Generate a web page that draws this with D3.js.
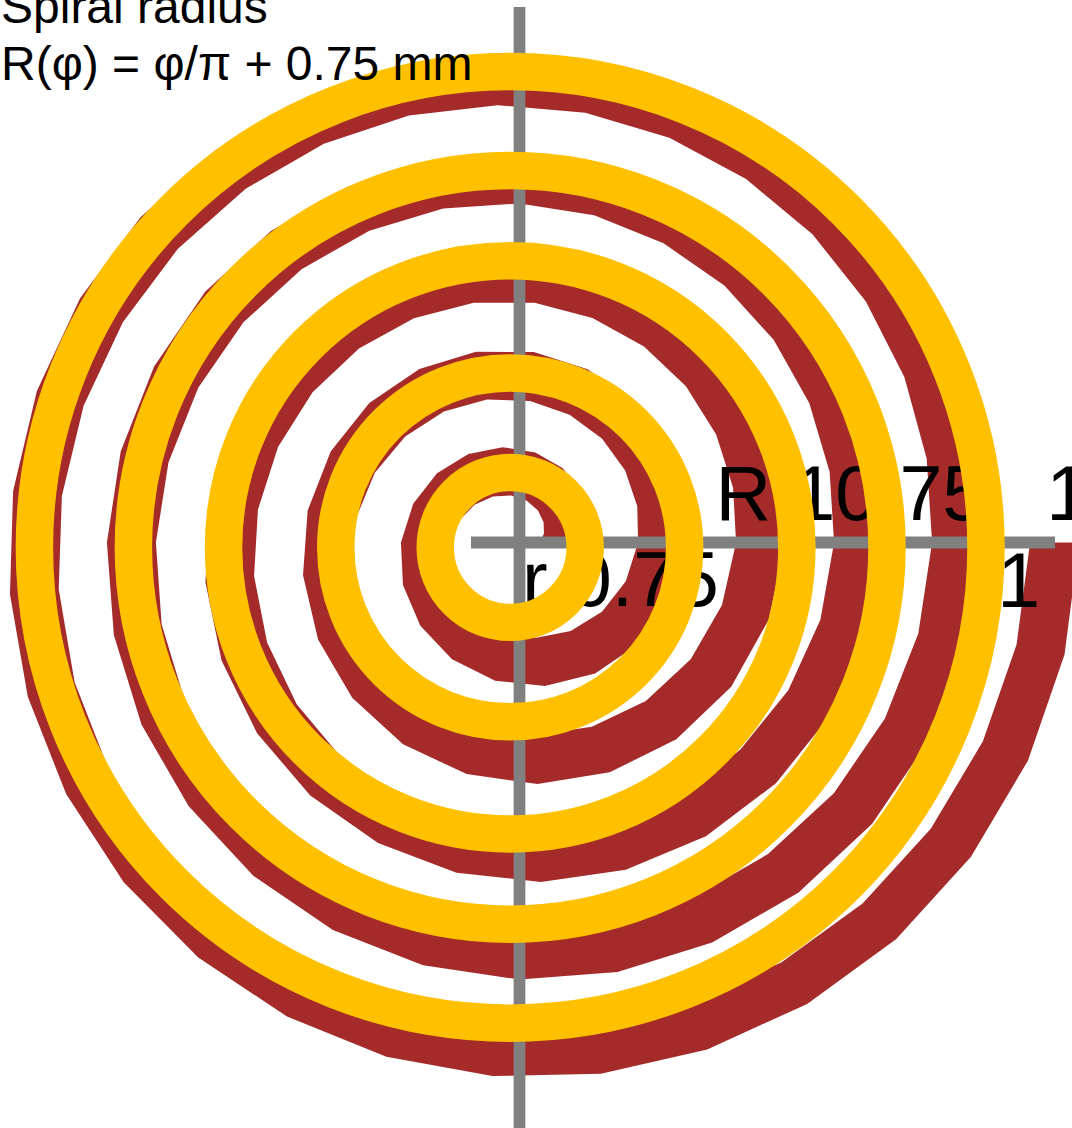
<!DOCTYPE html>
<html>
<head>
<meta charset="utf-8">
<script src="https://cdn.jsdelivr.net/npm/d3@7"></script>
<style>
  html, body { margin: 0; padding: 0; background: #ffffff; overflow: hidden; }
  svg { display: block; }
</style>
</head>
<body>
<svg id="chart" width="1072" height="1128"></svg>
<script>
// ---- Spiral R(φ) = φ/π + r0  (mm) ----
const spiralInnerRadius = 0.75;          // r, mm
const spiralOuterRadius = 10.75;         // R, mm
const spiralTurns = 5;
const segmentsPerTurn = [18, 21, 25, 28, 31];
const trackEdges = [-0.33, 0.67];        // track edges relative to R(φ), mm

// ---- Concentric rings (mm) ----
const ringRadii = [1.53, 3.56, 5.85, 7.69, 9.71];
const ringWidth = 0.765;
const ringCenter = [-0.19, -0.10];

// ---- Axes extent (mm) ----
const axisX = [-0.99, 10.93];
const axisY = [-12, 10.93];

// ---- Labels ----
const titleLines = ["Spiral radius", "R(φ) = φ/π + 0.75 mm"];
const labelTexts = ["R 10.75", "1", "r 0.75", "1"];
const labelX = [4.0, 10.75, 0.05, 9.75];
const labelY = [0.46, 0.46, -1.30, -1.32];

const svg = d3.select("#chart");
const pxPerMm = 49;
const cx = 519.5, cy = 542.5;

const x = d3.scaleLinear().domain([0, 1]).range([cx, cx + pxPerMm]);
const y = d3.scaleLinear().domain([0, 1]).range([cy, cy - pxPerMm]);
const len = d3.scaleLinear().domain([0, 1]).range([0, pxPerMm]);

const colors = { track: "#A52A2A", ring: "#FFC000", axis: "#808080", text: "#000000" };

// sample angles turn by turn
const phis = [];
segmentsPerTurn.forEach((n, t) => {
  for (let i = 0; i < n; i++) phis.push(2 * Math.PI * t + (2 * Math.PI * i) / n);
});
phis.push(2 * Math.PI * spiralTurns);

const pitch = (spiralOuterRadius - spiralInnerRadius) / (2 * Math.PI * spiralTurns);
const R = phi => spiralInnerRadius + pitch * phi;
const polar = (r, p) => [x(r * Math.cos(p)), y(r * Math.sin(p))];

const innerPts = phis.map(p => polar(R(p) + trackEdges[0], p));
const outerPts = phis.map(p => polar(R(p) + trackEdges[1], p)).reverse();

const line = d3.line().curve(d3.curveLinearClosed);

// spiral track
svg.append("path")
  .attr("d", line(innerPts.concat(outerPts)))
  .attr("fill", colors.track);

// axes
const gAxes = svg.append("g").attr("stroke", colors.axis).attr("stroke-width", len(0.24));
gAxes.append("line")
  .attr("x1", x(axisX[0])).attr("x2", x(axisX[1]))
  .attr("y1", y(0)).attr("y2", y(0));
gAxes.append("line")
  .attr("x1", x(0)).attr("x2", x(0))
  .attr("y1", y(axisY[1])).attr("y2", y(axisY[0]));

// dimension labels
svg.append("g")
  .attr("font-family", "Liberation Sans, Arial, sans-serif")
  .attr("font-size", 77)
  .attr("fill", colors.text)
  .selectAll("text")
  .data(labelTexts)
  .join("text")
  .attr("x", (d, i) => x(labelX[i]))
  .attr("y", (d, i) => y(labelY[i]))
  .text(d => d);

// rings
svg.append("g")
  .selectAll("circle")
  .data(ringRadii)
  .join("circle")
  .attr("cx", x(ringCenter[0]))
  .attr("cy", y(ringCenter[1]))
  .attr("r", d => len(d))
  .attr("fill", "none")
  .attr("stroke", colors.ring)
  .attr("stroke-width", len(ringWidth));

// title
svg.append("text")
  .attr("font-family", "Liberation Sans, Arial, sans-serif")
  .attr("font-size", 48)
  .attr("fill", colors.text)
  .selectAll("tspan")
  .data(titleLines)
  .join("tspan")
  .attr("x", 1)
  .attr("y", (d, i) => 23 + i * 57)
  .text(d => d);
</script>
</body>
</html>
